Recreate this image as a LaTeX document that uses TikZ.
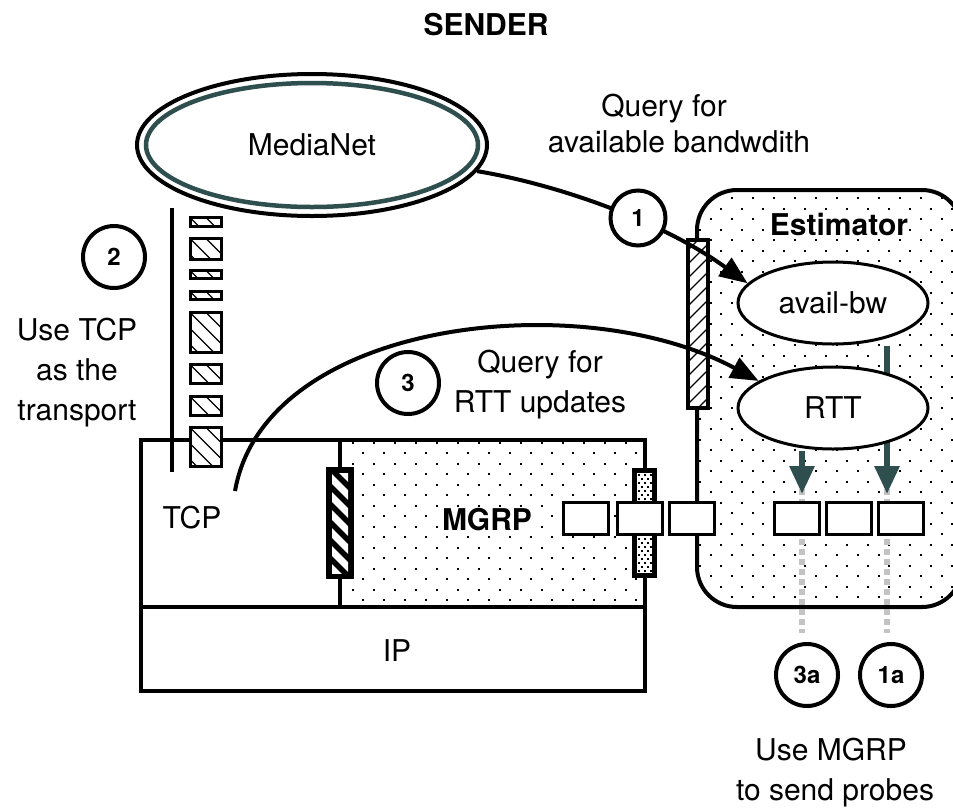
\documentclass[tikz,border=0pt]{standalone}
\usepackage{fontspec}
\setmainfont{TeX Gyre Heros}
\usetikzlibrary{shapes.geometric,arrows.meta}
\definecolor{tealdk}{RGB}{47,79,79}
\definecolor{grayd}{RGB}{195,195,195}
\newcommand{\mydots}[7]{% x0 y0 cols rows dx dy size
  \foreach \r in {0,...,#4}{%
    \pgfmathsetmacro\offx{mod(\r,2)*#5/2}%
    \foreach \c in {0,...,#3}{%
      \fill ({#1+\offx+\c*#5},{#2+\r*#6}) rectangle ++(#7,#7);
    }}}
\newcommand{\hatchrect}[4]{%
  \begin{scope}
    \clip (#1,#2) rectangle (#3,#4);
    \fill[white] (#1,#2) rectangle (#3,#4);
    \foreach \s in {-48,-32,...,32} \draw[line width=1.2pt] ({#1+\s},#2) -- ({#1+\s+80},{#2+80});
  \end{scope}
  \draw[line width=3pt] (#1,#2) rectangle (#3,#4);}
\tikzset{
  txt/.style={font=\fontsize{30}{36}\selectfont, inner sep=0pt, anchor=base},
  btxt/.style={font=\fontsize{30}{36}\selectfont\bfseries, inner sep=1pt, anchor=base},
  numc/.style={circle, draw, line width=4pt, fill=white, minimum size=62pt, inner sep=0pt, font=\fontsize{24}{28}\selectfont\bfseries},
  ell/.style={ellipse, draw, line width=3pt, fill=white, minimum width=190pt, minimum height=82pt, inner sep=0pt, font=\fontsize{30}{36}\selectfont},
  pkt/.style={rectangle, draw, line width=3pt, fill=white, minimum width=45pt, minimum height=32pt, inner sep=0pt},
  conn/.style={line width=4pt, -{Triangle[length=28pt,width=22pt]}},
  tealarr/.style={draw=tealdk, line width=6pt, -{Triangle[length=28pt,width=24pt]}},
  graydash/.style={draw=grayd, line width=6pt, dash pattern=on 6pt off 4pt},
  heavy/.style={line width=4pt}
}
\begin{document}
\begin{tikzpicture}[x=1pt,y=-1pt]
\useasboundingbox (0,0) rectangle (953,807);

% dotted backgrounds
\begin{scope}
  \clip (342,442) rectangle (643,605);
  \mydots{351.5}{441.5}{15}{16}{21}{10.5}{2}
\end{scope}
\begin{scope}
  \clip[rounded corners=40pt] (697,190) rectangle (962,607);
  \mydots{699}{186.5}{13}{41}{21}{10.5}{2}
\end{scope}

% protocol stack boxes
\draw[heavy] (141,440) rectangle (645,691);
\draw[heavy] (141,607) -- (645,607);
\draw[heavy] (340,440) -- (340,607);
% estimator box
\draw[heavy, rounded corners=40pt] (697,190) rectangle (962,607);

% vertical line left of packet stack
\draw[heavy] (172,208) -- (172,472);

% packet stack
\hatchrect{190}{217.5}{221}{226.5}
\hatchrect{190}{238.5}{221}{259.5}
\hatchrect{190}{270.5}{221}{278.5}
\hatchrect{190}{291.5}{221}{299.5}
\hatchrect{190}{312.5}{221}{352.5}
\hatchrect{190}{364.5}{221}{383.5}
\hatchrect{190}{396.5}{221}{415.5}
\hatchrect{190}{427.5}{221}{466.5}

% hatched bar TCP/MGRP
\fill (326,467) rectangle (354,579);
\begin{scope}
  \clip (332,473) rectangle (348,573);
  \foreach \k in {0,...,7} \draw[white, line width=7pt] (326,{455+\k*18}) -- (354,{483+\k*18});
\end{scope}
% dotted bar at MGRP edge
\draw[line width=5pt, fill=white] (634.5,470.5) rectangle (654.5,575.5);
\begin{scope}
  \clip (637,473) rectangle (652,573);
  \mydots{638}{474}{2}{25}{6}{4}{1.6}
\end{scope}
% hatched bar at estimator edge
\draw[heavy, fill=white] (688,240) rectangle (708,408);
\begin{scope}
  \clip (690,242) rectangle (706,406);
  \foreach \k in {0,...,13} \draw[line width=1.2pt] (688,{250+\k*14}) -- (708,{230+\k*14});
\end{scope}

% bottom circles
\node[numc] (c3a) at (807,675) {3a};
\node[numc] (c1a) at (891,675) {1a};

% arrow tips positions
\coordinate (tipA) at (802,494);
\coordinate (tipB) at (887,494);

% gray dashed probe lines
\draw[graydash] ([yshift=5pt]tipA) -- ([yshift=9pt]c3a.north -| tipA);
\draw[graydash] ([yshift=5pt]tipB) -- ([yshift=9pt]c1a.north -| tipB);

% estimator ellipses and teal arrows
\node[ell] (availbw) at (833,303) {avail-bw};
\draw[tealarr] (availbw.south -| tipB) -- (tipB);
\node[ell] (rtt) at (833,408) {RTT};
\draw[tealarr] (rtt.south -| tipA) -- (tipA);

% packet rows
\node[pkt] (m1) at (585.5,518) {};
\node[pkt] (m2) at (639.5,518) {};
\node[pkt] (m3) at (691.5,518) {};
\node[pkt] (e1) at (796.5,518) {};
\node[pkt] (e2) at (849,518) {};
\node[pkt] (e3) at (901,518) {};

% MediaNet
\node[ellipse, draw, line width=4pt, fill=white, minimum width=350pt, minimum height=142pt, inner sep=0pt, font=\fontsize{30}{36}\selectfont] (medianet) at (312,145) {MediaNet};
\draw[tealdk, line width=4.5pt] (medianet.center) ellipse [x radius=166pt, y radius=62pt];

% connectors
\draw[conn] (medianet.-9) .. controls (555,184) and (660,220) .. (availbw.167);
\coordinate (tcpstart) at (235,491);
\draw[conn] (tcpstart) .. controls (265,320) and (580,285) .. (rtt.160);

% numbered circles
\node[numc, minimum size=55pt] (c1) at (638,218) {1};
\node[numc] (c2) at (114,257) {2};
\node[numc] (c3) at (408,383) {3};

% texts
\node[btxt] (sender) at (486,35) {SENDER};
\node[txt] (q1a) at (664,116) {Query for};
\node[txt] (q1b) at (679,152) {available bandwdith};
\node[txt] (u2a) at (77,340) {Use TCP};
\node[txt] (u2b) at (77,380) {as the};
\node[txt] (u2c) at (77,420) {transport};
\node[txt] (q3a) at (540,372) {Query for};
\node[txt] (q3b) at (540,412) {RTT updates};
\node[txt] (tcp) at (192,528) {TCP};
\node[btxt, fill=white] (mgrp) at (487,530) {MGRP};
\node[txt] (ip) at (397,661) {IP};
\node[btxt, fill=white] (estim) at (839,235) {Estimator};
\node[txt] (u3a) at (831,760) {Use MGRP};
\node[txt] (u3b) at (835,800) {to send probes};
\end{tikzpicture}
\end{document}
